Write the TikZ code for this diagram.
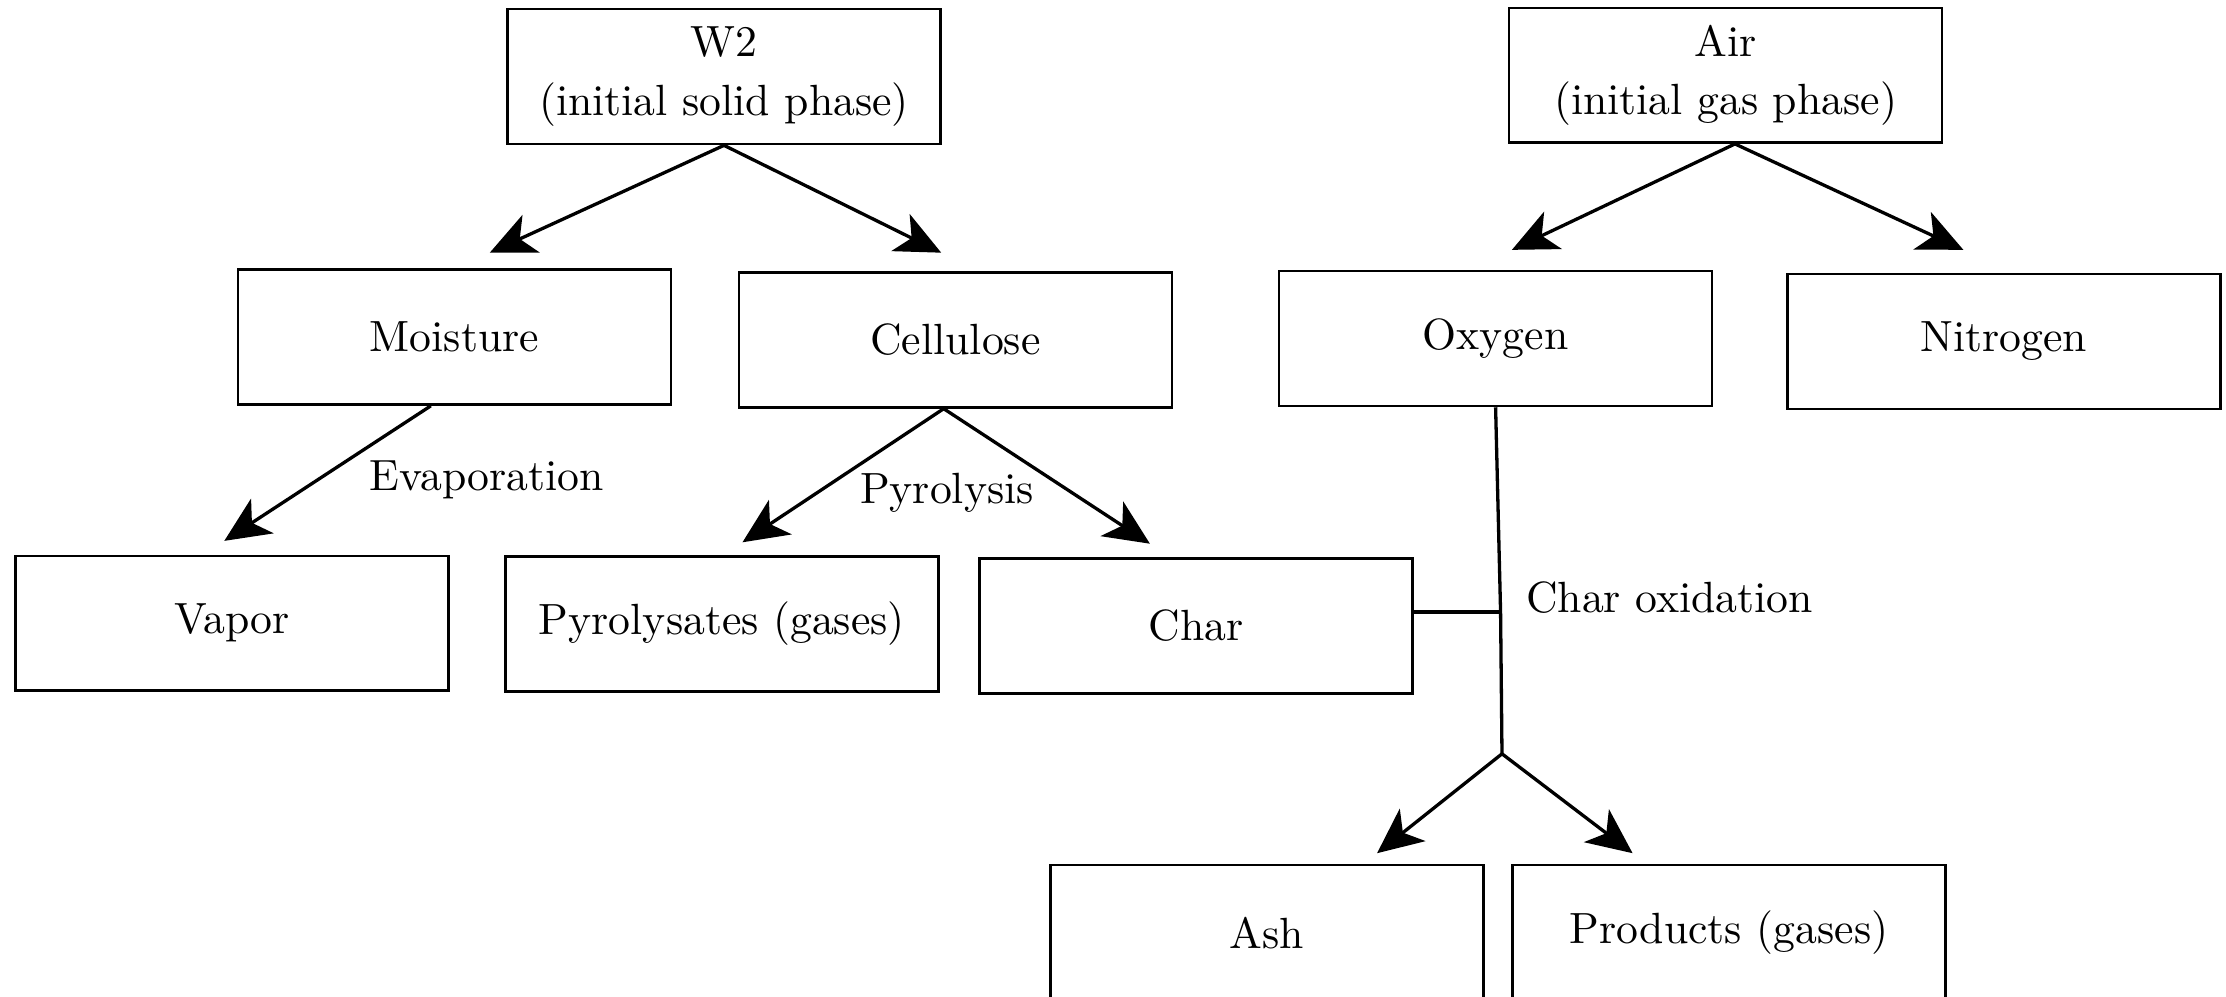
\documentclass[tikz,border=0pt]{standalone}
\usetikzlibrary{arrows.meta}
\tikzset{
  box/.style={draw, line width=0.6pt, minimum width=3.69cm, minimum height=1.15cm, align=center},
  flow/.style={-{Stealth[length=11pt, width=10pt, inset=3pt]}, line width=0.8pt},
  note/.style={inner sep=1pt}
}
\begin{document}
\begin{tikzpicture}[x=0.0121cm, y=-0.0121cm, font=\fontsize{10.6pt}{14.2pt}\selectfont]
    \useasboundingbox (0, 0) rectangle (1568, 702);
    % first level
    \node[box] (w2) at (510, 54) {W2\\(initial solid phase)};
    \node[box] (air) at (1215.5, 53) {Air\\(initial gas phase)};
    % second level
    \node[box] (moist) at (320, 237.5) {Moisture};
    \node[box] (cell) at (673, 239.5) {Cellulose};
    \node[box] (oxy) at (1053.5, 238.5) {Oxygen};
    \node[box] (nitro) at (1411.5, 240.5) {Nitrogen};
    % third level
    \node[box] (vapor) at (163.5, 439) {Vapor};
    \node[box] (pyro) at (508.5, 439.5) {Pyrolysates (gases)};
    \node[box] (char) at (842.5, 441) {Char};
    \node[box] (ash) at (892.5, 657) {Ash};
    \node[box] (prod) at (1218, 657) {Products (gases)};
    % arrow tips
    \coordinate (tmoist) at (345, 178);
    \coordinate (tcell) at (663, 178);
    \coordinate (toxy) at (1065, 176);
    \coordinate (tnitro) at (1383, 176);
    \coordinate (tvapor) at (158, 381);
    \coordinate (tpyro) at (523, 382);
    \coordinate (tchar) at (810, 383);
    \coordinate (join) at (1057, 431);
    \coordinate (split) at (1058, 531);
    \coordinate (tash) at (970, 601);
    \coordinate (tprod) at (1150, 601);
    \draw[flow] (w2.south) -- (tmoist);
    \draw[flow] (w2.south) -- (tcell);
    \draw[flow] ([xshift=0.08cm]air.south) -- (toxy);
    \draw[flow] ([xshift=0.08cm]air.south) -- (tnitro);
    \draw[flow] ([xshift=-0.2cm]moist.south) -- (tvapor);
    \draw[flow] ([xshift=-0.1cm]cell.south) -- (tpyro);
    \draw[flow] ([xshift=-0.1cm]cell.south) -- (tchar);
    \draw[line width=0.8pt] (oxy.south) -- (join) -- (split);
    \draw[line width=0.8pt] (join -| char.east) -- (join);
    \draw[flow] (split) -- (tash);
    \draw[flow] (split) -- (tprod);
    % process labels
    \node[note] (evap) at (343, 338) {Evaporation};
    \node[note] (pyrl) at (667, 347) {Pyrolysis};
    \node[note] (coxd) at (1176, 421) {Char oxidation};
  \end{tikzpicture}
\end{document}
